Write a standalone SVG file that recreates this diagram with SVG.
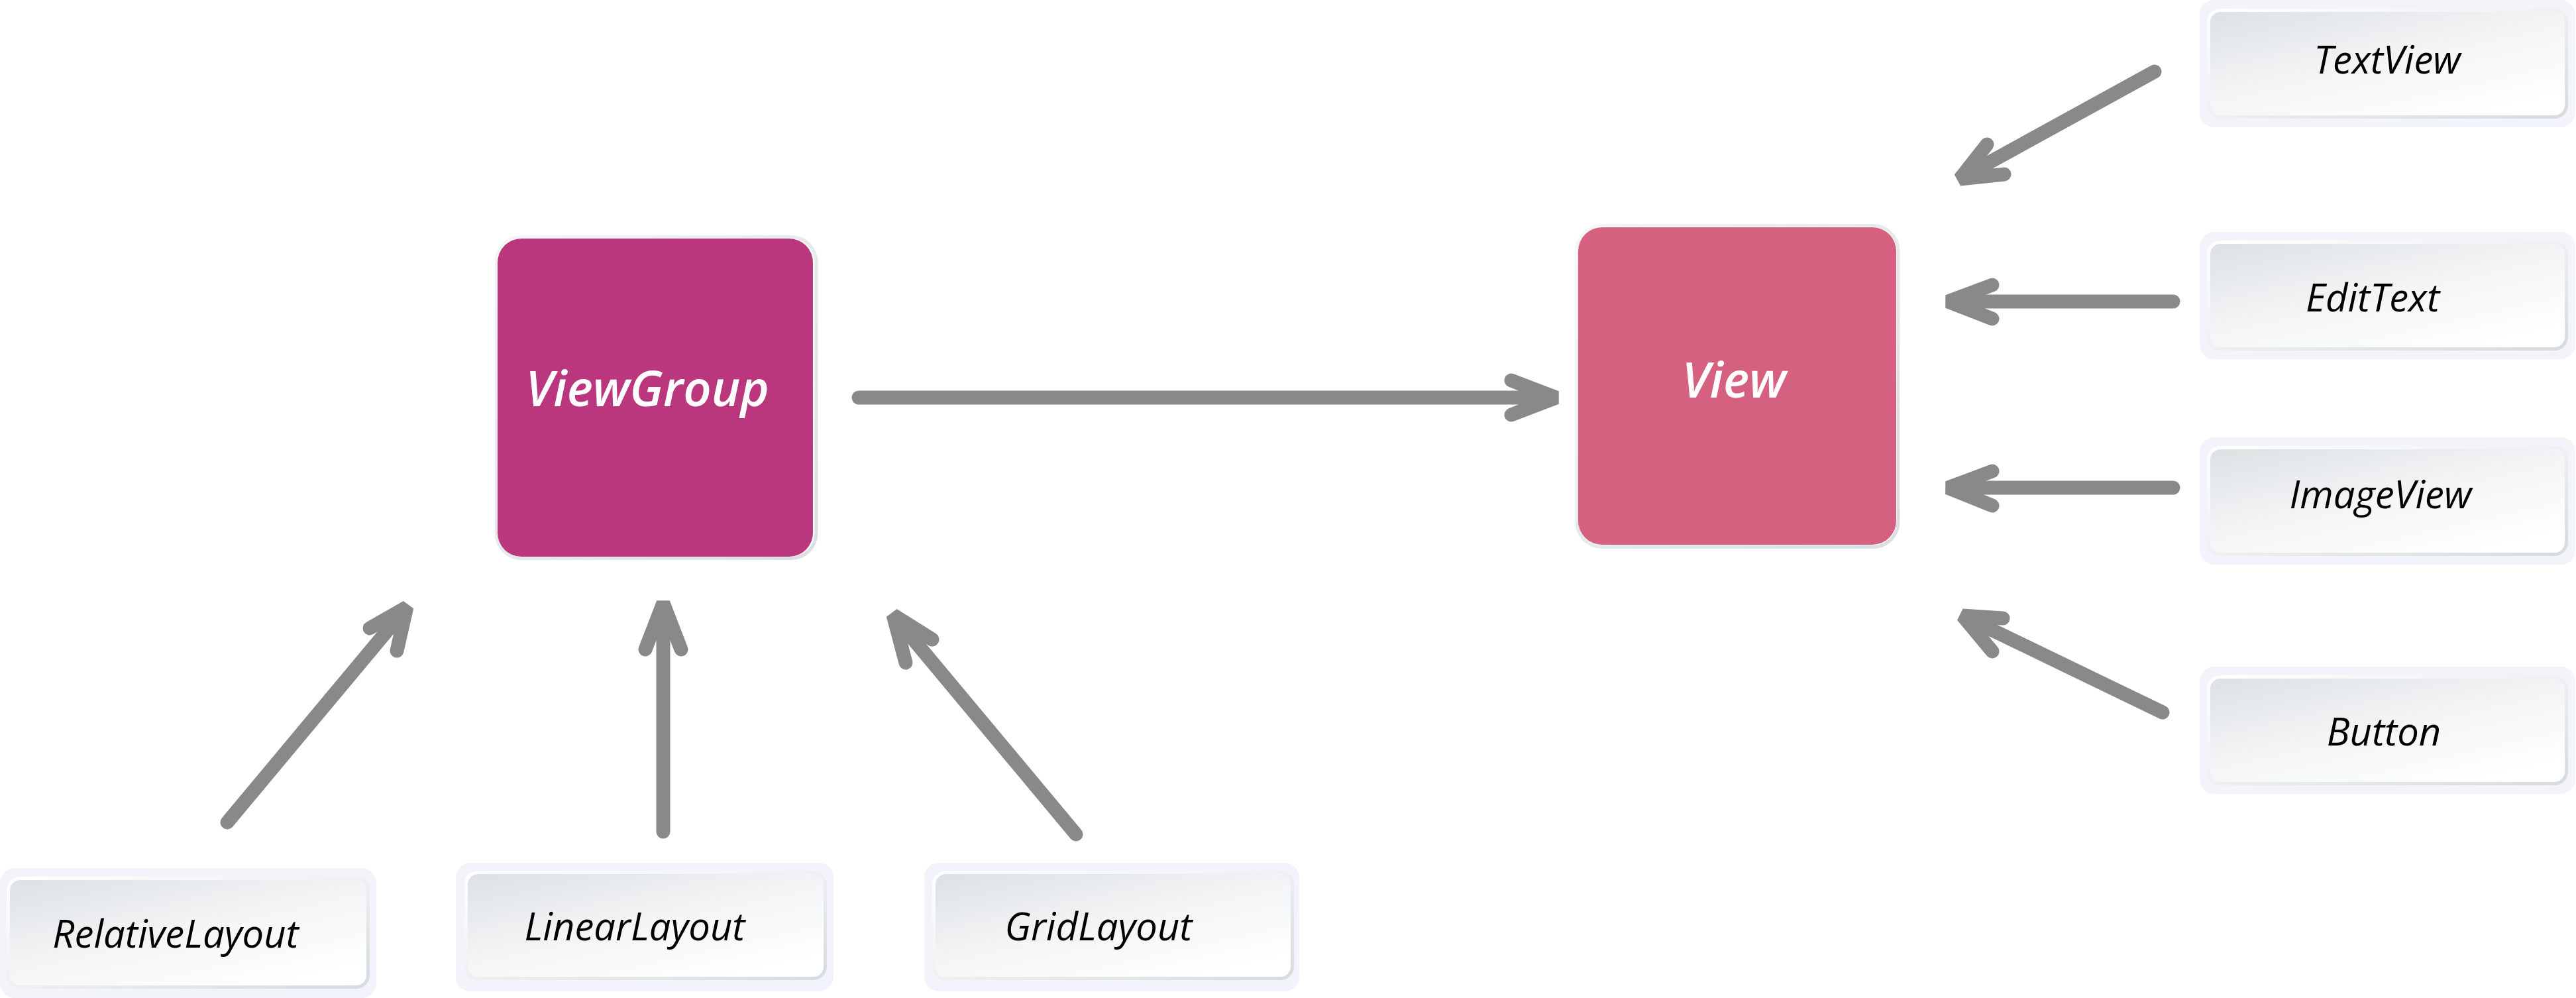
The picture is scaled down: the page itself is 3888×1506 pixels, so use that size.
<svg xmlns="http://www.w3.org/2000/svg" width="3888" height="1506" viewBox="0 0 3888 1506">
  <style>
    .frame { fill: #F2F3FB; }
    .card { fill: url(#cardFill); stroke: url(#cardEdge); stroke-width: 5; }
    .label { font-family: "Open Sans", "Noto Sans", "DejaVu Sans", sans-serif; font-style: italic; font-size: 58px; fill: #000000; text-anchor: middle; }
    .big { font-family: "Open Sans", "Noto Sans", "DejaVu Sans", sans-serif; font-style: italic; font-weight: 600; font-size: 74px; fill: #FFFFFF; text-anchor: middle; }
    .ring { fill: none; stroke: url(#ringEdge); stroke-width: 5; }
    .conn { fill: none; stroke: #898989; stroke-width: 21; stroke-linecap: round; stroke-linejoin: bevel; }
  </style>
  <defs>
    <linearGradient id="cardFill" x1="0" y1="0" x2="0.75" y2="1">
      <stop offset="0" stop-color="#DCE1E4"/>
      <stop offset="0.55" stop-color="#F4F5F6"/>
      <stop offset="1" stop-color="#FFFFFF"/>
    </linearGradient>
    <linearGradient id="cardEdge" x1="0" y1="0" x2="1" y2="1">
      <stop offset="0" stop-color="#FFFFFF"/>
      <stop offset="0.5" stop-color="#EEF0F2"/>
      <stop offset="1" stop-color="#D5DBDF"/>
    </linearGradient>
    <linearGradient id="ringEdge" x1="0" y1="0" x2="1" y2="1">
      <stop offset="0" stop-color="#F4F6F8"/>
      <stop offset="1" stop-color="#D9DEE2"/>
    </linearGradient>
  </defs>

  <g id="connectors">
    <path class="conn" d="M1296,600 H2338"/>
    <path class="conn" d="M2281,574 L2349,600 L2281,626"/>

    <path class="conn" d="M3252,108 L2968,264"/>
    <path class="conn" d="M2999,218 L2958,270 L3025,263"/>

    <path class="conn" d="M3280,455 H2952"/>
    <path class="conn" d="M3007,430 L2940,455 L3007,481"/>

    <path class="conn" d="M3280,736 H2952"/>
    <path class="conn" d="M3007,711 L2940,736 L3007,763"/>

    <path class="conn" d="M3264,1075 L2972,934"/>
    <path class="conn" d="M3023,933 L2962,929 L3007,983"/>

    <path class="conn" d="M343,1241 L606,926"/>
    <path class="conn" d="M558,948 L614,916 L599,982"/>

    <path class="conn" d="M1001,1255 V922"/>
    <path class="conn" d="M974,980 L1001,910 L1028,980"/>

    <path class="conn" d="M1624,1259 L1356,938"/>
    <path class="conn" d="M1407,965 L1348,928 L1367,1000"/>
  </g>

  <g id="node-viewgroup">
    <rect class="ring" x="749" y="357.5" width="483" height="485" rx="38"/>
    <rect x="751" y="360" width="476" height="480" rx="36" fill="#BA377D"/>
    <text class="big" x="977" y="613">ViewGroup</text>
  </g>

  <g id="node-view">
    <rect class="ring" x="2380" y="340.5" width="485" height="485" rx="38"/>
    <rect x="2382" y="343" width="480" height="479" rx="36" fill="#D6607F"/>
    <text class="big" x="2617" y="600">View</text>
  </g>

  <g id="node-textview">
    <rect class="frame" x="3320" y="0" width="567" height="192" rx="22"/>
    <rect class="card" x="3333.5" y="15.5" width="540" height="161" rx="18"/>
    <text class="label" x="3603" y="111">TextView</text>
  </g>

  <g id="node-edittext">
    <rect class="frame" x="3320" y="350" width="567" height="192" rx="22"/>
    <rect class="card" x="3333.5" y="365.5" width="540" height="161" rx="18"/>
    <text class="label" x="3581" y="470">EditText</text>
  </g>

  <g id="node-imageview">
    <rect class="frame" x="3320" y="660" width="567" height="192" rx="22"/>
    <rect class="card" x="3333.5" y="675.5" width="540" height="161" rx="18"/>
    <text class="label" x="3593" y="767">ImageView</text>
  </g>

  <g id="node-button">
    <rect class="frame" x="3320" y="1006" width="567" height="192" rx="22"/>
    <rect class="card" x="3333.5" y="1021.5" width="540" height="161" rx="18"/>
    <text class="label" x="3598" y="1125">Button</text>
  </g>

  <g id="node-relativelayout">
    <rect class="frame" x="0" y="1310" width="568" height="196" rx="22"/>
    <rect class="card" x="12.5" y="1325.5" width="543" height="164" rx="18"/>
    <text class="label" x="265" y="1430">RelativeLayout</text>
  </g>

  <g id="node-linearlayout">
    <rect class="frame" x="688" y="1302" width="570" height="194" rx="22"/>
    <rect class="card" x="703.5" y="1316.5" width="542" height="160" rx="18"/>
    <text class="label" x="958" y="1419">LinearLayout</text>
  </g>

  <g id="node-gridlayout">
    <rect class="frame" x="1395" y="1302" width="566" height="194" rx="22"/>
    <rect class="card" x="1409.5" y="1316.5" width="541" height="160" rx="18"/>
    <text class="label" x="1658" y="1419">GridLayout</text>
  </g>
</svg>
